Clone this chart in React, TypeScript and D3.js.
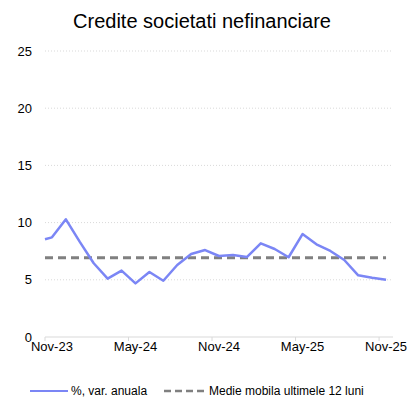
import React from "react";
import * as d3 from "d3";

const dates = [
  "2023-10-16", "2023-11-01", "2023-12-01", "2024-01-01", "2024-02-01", "2024-03-01",
  "2024-04-01", "2024-05-01", "2024-06-01", "2024-07-01", "2024-08-01", "2024-09-01",
  "2024-10-01", "2024-11-01", "2024-12-01", "2025-01-01", "2025-02-01", "2025-03-01",
  "2025-04-01", "2025-05-01", "2025-06-01", "2025-07-01", "2025-08-01", "2025-09-01",
  "2025-10-01", "2025-11-01",
];
const annualChange = [
  8.54, 8.71, 10.29, 8.31, 6.45, 5.1, 5.8, 4.69, 5.68, 4.92, 6.29, 7.26, 7.6,
  7.08, 7.17, 6.99, 8.19, 7.69, 6.97, 9.0, 8.1, 7.52, 6.73, 5.39, 5.18, 5.01,
];
const movingAverage = 6.93;
const yTicks = [0, 5, 10, 15, 20, 25];
const xTickLabels = ["Nov-23", "May-24", "Nov-24", "May-25", "Nov-25"];
const xTickDates = ["2023-11-01", "2024-05-01", "2024-11-01", "2025-05-01", "2025-11-01"];
const title = "Credite societati nefinanciare";
const legendLabels = ["%, var. anuala", "Medie mobila ultimele 12 luni"];

const monthIndex = (s: string) => {
  const [y, m, d] = s.split("-").map(Number);
  return (y - 2023) * 12 + (m - 11) + (d - 1) / 30;
};

const FONT = "'Liberation Sans', Arial, Helvetica, sans-serif";

export default function App() {
  const W = 409, H = 399;
  const x = d3.scaleLinear().domain([-0.5, 24.5]).range([45, 393]);
  const y = d3.scaleLinear().domain([0, 25]).range([337, 51]);

  const pts = dates.map((d, i) => [monthIndex(d), annualChange[i]] as [number, number]);
  const line = d3.line<[number, number]>().x((p) => x(p[0])).y((p) => y(p[1]));
  const avgPts = dates.map((d) => [monthIndex(d), movingAverage] as [number, number]);

  return (
    <svg width={W} height={H} style={{ position: "absolute", left: 0, top: 0, background: "#fff" }} fontFamily={FONT}>
      <text x={202} y={28} textAnchor="middle" fontSize={20} fill="#000">{title}</text>
      {yTicks.map((t) => (
        <g key={t}>
          {t > 0 && (
            <line x1={45} x2={393} y1={y(t)} y2={y(t)} stroke="#d9d9d9" strokeWidth={1} strokeDasharray="1,2" />
          )}
          <text x={32} y={y(t) + 4.5} textAnchor="end" fontSize={13} fill="#000">{t}</text>
        </g>
      ))}
      <line x1={45} x2={393} y1={y(0)} y2={y(0)} stroke="#d9d9d9" strokeWidth={1} />
      {xTickDates.map((d) => (
        <line key={d} x1={x(monthIndex(d) - 0.5)} x2={x(monthIndex(d) - 0.5)} y1={y(0)} y2={y(0) + 4} stroke="#d9d9d9" />
      ))}
      {xTickDates.map((d, i) => (
        <text key={d} x={x(monthIndex(d))} y={351} textAnchor="middle" fontSize={13} fill="#000">{xTickLabels[i]}</text>
      ))}
      <path d={line(avgPts) || ""} fill="none" stroke="#808080" strokeWidth={3} strokeDasharray="8,5" />
      <path d={line(pts) || ""} fill="none" stroke="#7b86f5" strokeWidth={2.5} strokeLinejoin="round" />
      <line x1={30} x2={68} y1={391} y2={391} stroke="#7b86f5" strokeWidth={2} />
      <text x={71} y={395} fontSize={12} fill="#000">{legendLabels[0]}</text>
      <line x1={164} x2={206} y1={391} y2={391} stroke="#808080" strokeWidth={2.5} strokeDasharray="7,4" />
      <text x={209} y={395} fontSize={12} fill="#000">{legendLabels[1]}</text>
    </svg>
  );
}
